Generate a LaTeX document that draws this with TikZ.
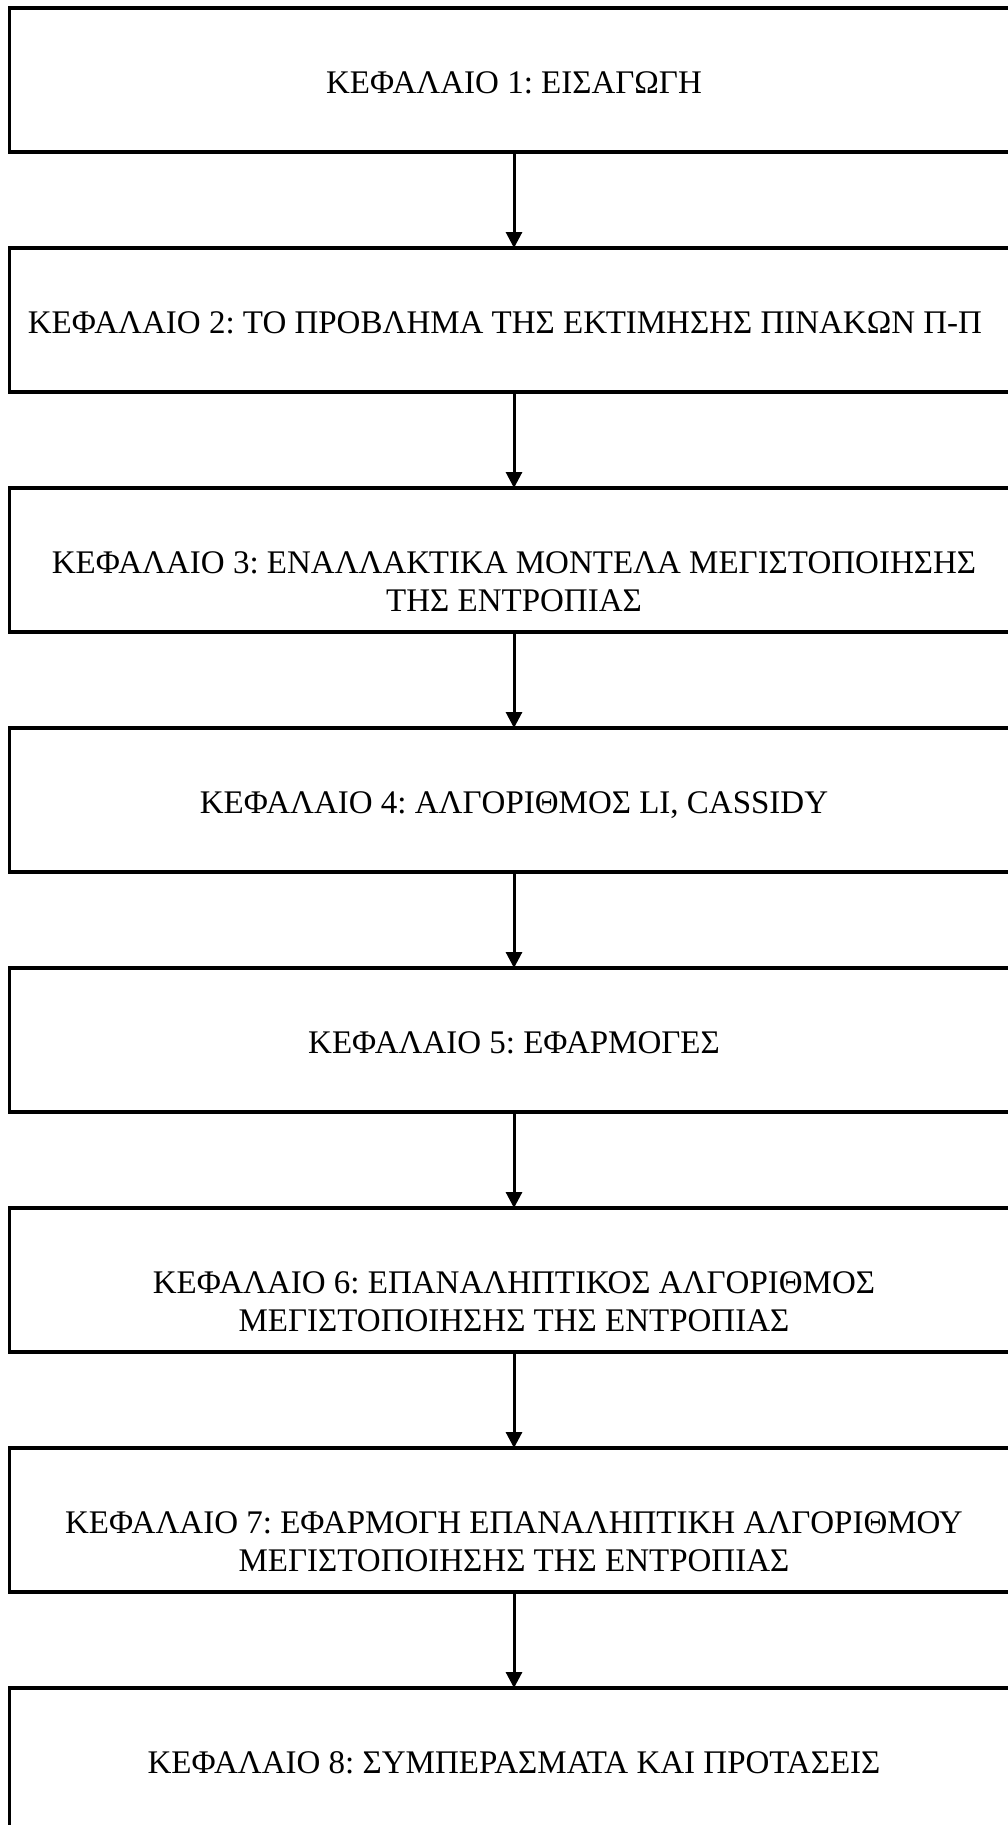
\documentclass[tikz,border=0pt]{standalone}
\usepackage{fontspec}
\setmainfont{Liberation Serif}
\usetikzlibrary{arrows.meta,calc}
\frenchspacing
\tikzset{
  chapbox/.style={draw=black, line width=3.5pt, rectangle, outer sep=0pt, inner sep=0pt,
    minimum width=1009pt, minimum height=144pt, fill=white},
  chaptext/.style={anchor=north, align=center, inner sep=0pt,
    font=\fontsize{33pt}{38.4pt}\selectfont},
  flow/.style={line width=3pt, -{Triangle[width=16pt,length=16pt]}}
}
\begin{document}
\begin{tikzpicture}[x=1pt,y=1pt]
\useasboundingbox (0,0) rectangle (1008,-1825);
\clip (0,0) rectangle (1008,-1825);
\fill[white] (0,0) rectangle (1008,-1825);
\node[chapbox] (b1) at (514,-80) {};
\node[chapbox] (b2) at (514,-320) {};
\node[chapbox] (b3) at (514,-560) {};
\node[chapbox] (b4) at (514,-800) {};
\node[chapbox] (b5) at (514,-1040) {};
\node[chapbox] (b6) at (514,-1280) {};
\node[chapbox] (b7) at (514,-1520) {};
\node[chapbox] (b8) at (514,-1760) {};
\node[chaptext] (t1) at ($(b1.center)+(0,9)$) {ΚΕΦΑΛΑΙΟ 1: ΕΙΣΑΓΩΓΗ};
\node[chaptext] (t2) at ($(b2.center)+(-9,9)$) {ΚΕΦΑΛΑΙΟ 2: ΤΟ ΠΡΟΒΛΗΜΑ ΤΗΣ ΕΚΤΙΜΗΣΗΣ ΠΙΝΑΚΩΝ Π-Π};
\node[chaptext] (t3) at ($(b3.center)+(0,9)$) {ΚΕΦΑΛΑΙΟ 3: ΕΝΑΛΛΑΚΤΙΚΑ ΜΟΝΤΕΛΑ ΜΕΓΙΣΤΟΠΟΙΗΣΗΣ\\ΤΗΣ ΕΝΤΡΟΠΙΑΣ};
\node[chaptext] (t4) at ($(b4.center)+(0,9)$) {ΚΕΦΑΛΑΙΟ 4: ΑΛΓΟΡΙΘΜΟΣ LI, CASSIDY};
\node[chaptext] (t5) at ($(b5.center)+(0,9)$) {ΚΕΦΑΛΑΙΟ 5: ΕΦΑΡΜΟΓΕΣ};
\node[chaptext] (t6) at ($(b6.center)+(0,9)$) {ΚΕΦΑΛΑΙΟ 6: ΕΠΑΝΑΛΗΠΤΙΚΟΣ ΑΛΓΟΡΙΘΜΟΣ\\ΜΕΓΙΣΤΟΠΟΙΗΣΗΣ ΤΗΣ ΕΝΤΡΟΠΙΑΣ};
\node[chaptext] (t7) at ($(b7.center)+(0,9)$) {ΚΕΦΑΛΑΙΟ 7: ΕΦΑΡΜΟΓΗ ΕΠΑΝΑΛΗΠΤΙΚΗ ΑΛΓΟΡΙΘΜΟΥ\\ΜΕΓΙΣΤΟΠΟΙΗΣΗΣ ΤΗΣ ΕΝΤΡΟΠΙΑΣ};
\node[chaptext] (t8) at ($(b8.center)+(0,9)$) {ΚΕΦΑΛΑΙΟ 8: ΣΥΜΠΕΡΑΣΜΑΤΑ ΚΑΙ ΠΡΟΤΑΣΕΙΣ};
\draw[flow] (b1.south) -- (b2.north);
\draw[flow] (b2.south) -- (b3.north);
\draw[flow] (b3.south) -- (b4.north);
\draw[flow] (b4.south) -- (b5.north);
\draw[flow] (b5.south) -- (b6.north);
\draw[flow] (b6.south) -- (b7.north);
\draw[flow] (b7.south) -- (b8.north);
\end{tikzpicture}
\end{document}
